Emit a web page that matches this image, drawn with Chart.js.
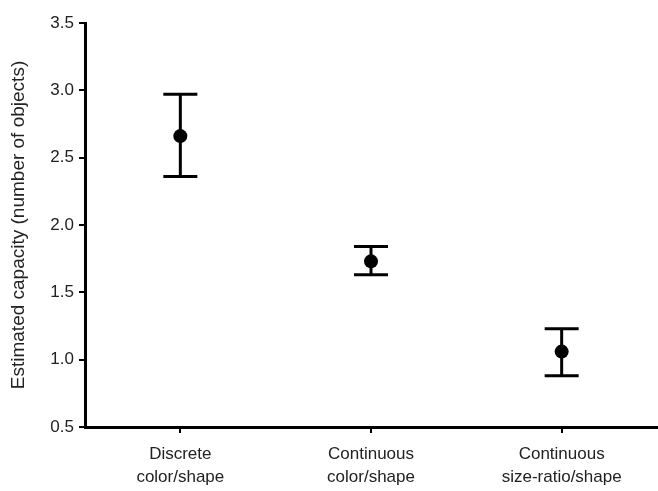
<!DOCTYPE html>
<html>
<head>
<meta charset="utf-8">
<script src="https://cdn.jsdelivr.net/npm/chart.js@4/dist/chart.umd.min.js"></script>
<style>
    html, body { margin: 0; padding: 0; background: #fff; overflow: hidden; }
    #wrap { width: 658px; height: 491px; overflow: hidden; }
</style>
</head>
<body>
<div id="wrap"><canvas id="capacityChart" width="664" height="491"></canvas></div>
<script>
const categories = [
    ['Discrete', 'color/shape'],
    ['Continuous', 'color/shape'],
    ['Continuous', 'size-ratio/shape']
];
const means = [2.66, 1.73, 1.06];
const upperBars = [2.97, 1.84, 1.23];
const lowerBars = [2.36, 1.63, 0.88];
const yMin = 0.5;
const yMax = 3.5;
const yStep = 0.5;

// draws the vertical error bars with caps, using the chart scales
const errorBars = {
    id: 'errorBars',
    afterDatasetsDraw(chart) {
        const ctx = chart.ctx;
        const xScale = chart.scales.x;
        const yScale = chart.scales.y;
        ctx.save();
        ctx.strokeStyle = '#000';
        ctx.lineWidth = 3;
        means.forEach((m, i) => {
            const x = xScale.getPixelForValue(i);
            const yTop = yScale.getPixelForValue(upperBars[i]);
            const yBot = yScale.getPixelForValue(lowerBars[i]);
            ctx.beginPath();
            ctx.moveTo(x, yTop);
            ctx.lineTo(x, yBot);
            ctx.moveTo(x - 17, yTop);
            ctx.lineTo(x + 17, yTop);
            ctx.moveTo(x - 17, yBot);
            ctx.lineTo(x + 17, yBot);
            ctx.stroke();
        });
        ctx.restore();
    }
};

const ctx = document.getElementById('capacityChart').getContext('2d');
new Chart(ctx, {
    type: 'line',
    data: {
        labels: categories,
        datasets: [{
            label: 'Estimated capacity',
            data: means,
            showLine: false,
            pointRadius: 7,
            pointHoverRadius: 7,
            pointBackgroundColor: '#000',
            pointBorderColor: '#000',
            pointBorderWidth: 0
        }]
    },
    options: {
        responsive: false,
        animation: false,
        layout: {
            padding: { top: 23, right: 1, left: 0, bottom: 0 }
        },
        plugins: {
            legend: { display: false },
            tooltip: { enabled: false }
        },
        scales: {
            x: {
                type: 'category',
                offset: true,
                grid: {
                    display: true,
                    drawOnChartArea: false,
                    offset: false,
                    color: '#000',
                    lineWidth: 2,
                    tickLength: 6
                },
                border: { display: true, color: '#000', width: 3 },
                ticks: {
                    color: '#222',
                    padding: 10,
                    maxRotation: 0,
                    autoSkip: false,
                    font: { family: '"Liberation Sans", Arial, sans-serif', size: 17, lineHeight: 1.35 }
                },
                afterFit(scale) {
                    scale.height = 64;
                    scale.paddingLeft = 0;
                    scale.paddingRight = 0;
                }
            },
            y: {
                min: yMin,
                max: yMax,
                grid: {
                    display: true,
                    drawOnChartArea: false,
                    color: '#000',
                    lineWidth: 2,
                    tickLength: 6
                },
                border: { display: true, color: '#000', width: 3 },
                ticks: {
                    stepSize: yStep,
                    color: '#222',
                    padding: 5,
                    font: { family: '"Liberation Sans", Arial, sans-serif', size: 17 },
                    callback: v => Number(v).toFixed(1)
                },
                title: {
                    display: true,
                    text: 'Estimated capacity (number of objects)',
                    color: '#222',
                    padding: { top: 7, bottom: 0 },
                    font: { family: '"Liberation Sans", Arial, sans-serif', size: 19 }
                },
                afterFit(scale) { scale.width = 85; }
            }
        }
    },
    plugins: [errorBars]
});
</script>
</body>
</html>
